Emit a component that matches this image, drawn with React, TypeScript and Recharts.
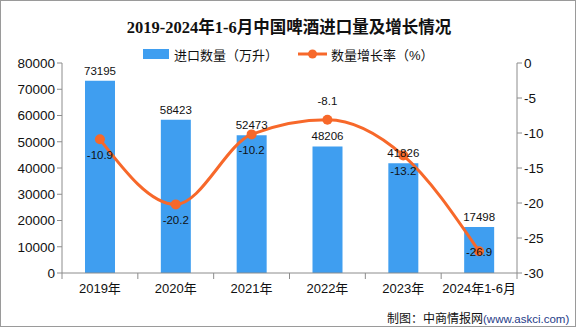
import { Bar, ComposedChart, LabelList, Line, XAxis, YAxis } from "recharts";

const years = ["2019年", "2020年", "2021年", "2022年", "2023年", "2024年1-6月"];
const imports = [73195, 58423, 52473, 48206, 41826, 17498];
const growth = [-10.9, -20.2, -10.2, -8.1, -13.2, -26.9];
const leftTicks = [0, 10000, 20000, 30000, 40000, 50000, 60000, 70000, 80000];
const rightTicks = [-30, -25, -20, -15, -10, -5, 0];

const BLUE = "#3F9EF0";
const ORANGE = "#F7682A";
const AXIS = "#8C8C8C";
const TEXT = "#111111";
const CJK = "'Liberation Sans', 'Noto Sans CJK SC', sans-serif";

const W = 576;
const H = 327;
const M = { top: 63, right: 8, bottom: 24, left: 8 };
const LEFT_W = 54;
const RIGHT_W = 51;
const BAND = (W - M.left - M.right - LEFT_W - RIGHT_W) / years.length;

const data = years.map((y, i) => ({ year: y, imports: imports[i], growth: growth[i] }));

function XTick(props: any) {
  const { x, y, payload, index } = props;
  return (
    <g>
      <line x1={x - BAND / 2} x2={x - BAND / 2} y1={y - 8} y2={y - 2} stroke={AXIS} />
      {index === years.length - 1 ? (
        <line x1={x + BAND / 2} x2={x + BAND / 2} y1={y - 8} y2={y - 2} stroke={AXIS} />
      ) : null}
      <text x={x} y={y + 12} textAnchor="middle" fontSize={13} fill={TEXT} fontFamily={CJK}>
        {payload.value}
      </text>
    </g>
  );
}

function GrowthLabel(props: any) {
  const { x, y, value, index } = props;
  let dy = 20;
  if (index === 3) dy = -15;
  if (index === 5) dy = 5;
  return (
    <text x={x} y={y + dy} textAnchor="middle" fontSize={11.5} fill={TEXT} fontFamily={CJK}>
      {value}
    </text>
  );
}

export default function App() {
  return (
    <div
      style={{
        position: "absolute",
        left: 0,
        top: 0,
        width: W,
        height: H,
        background: "#fff",
        boxSizing: "border-box",
        border: "1px solid #9a9a9a",
        overflow: "hidden",
      }}
    >
      <div
        style={{
          position: "absolute",
          left: 0,
          width: W,
          top: 13,
          textAlign: "center",
          fontFamily: "'Liberation Serif', 'Noto Sans CJK SC', serif",
          fontWeight: 700,
          fontSize: 16.5,
          color: TEXT,
        }}
      >
        2019-2024年1-6月中国啤酒进口量及增长情况
      </div>
      <div style={{ position: "absolute", left: 0, top: 0, fontFamily: CJK, fontSize: 13, color: TEXT }}>
        <div style={{ position: "absolute", left: 142, top: 48, width: 26, height: 10, background: BLUE }} />
        <div style={{ position: "absolute", left: 173, top: 44, whiteSpace: "nowrap" }}>进口数量（万升）</div>
        <svg style={{ position: "absolute", left: 296, top: 46 }} width={31} height={14}>
          <line x1={1} x2={30} y1={7} y2={7} stroke={ORANGE} strokeWidth={3} />
          <circle cx={15.5} cy={7} r={4.5} fill={ORANGE} />
        </svg>
        <div style={{ position: "absolute", left: 330, top: 44, whiteSpace: "nowrap" }}>数量增长率（%）</div>
      </div>
      <div style={{ position: "absolute", left: -1, top: -1 }}>
        <ComposedChart width={W} height={H} data={data} margin={M}>
          <XAxis
            dataKey="year"
            stroke={AXIS}
            tickLine={false}
            tick={<XTick />}
            height={30}
            interval={0}
          />
          <YAxis
            yAxisId="left"
            domain={[0, 80000]}
            ticks={leftTicks}
            width={LEFT_W}
            stroke={AXIS}
            tickSize={5}
            tick={{ fill: TEXT, fontSize: 13.5, fontFamily: CJK }}
            interval={0}
          />
          <YAxis
            yAxisId="right"
            orientation="right"
            domain={[-30, 0]}
            ticks={rightTicks}
            width={RIGHT_W}
            stroke={AXIS}
            tickSize={5}
            tick={{ fill: TEXT, fontSize: 13.5, fontFamily: CJK }}
            interval={0}
          />
          <Bar yAxisId="left" dataKey="imports" fill={BLUE} barSize={30} isAnimationActive={false}>
            <LabelList
              dataKey="imports"
              position="top"
              offset={6}
              fill={TEXT}
              fontSize={11.5}
              fontFamily={CJK}
            />
          </Bar>
          <Line
            yAxisId="right"
            type="monotone"
            dataKey="growth"
            stroke={ORANGE}
            strokeWidth={3}
            dot={{ r: 5, fill: ORANGE, stroke: ORANGE, strokeWidth: 0 }}
            isAnimationActive={false}
          >
            <LabelList dataKey="growth" content={<GrowthLabel />} />
          </Line>
        </ComposedChart>
      </div>
      <div
        style={{
          position: "absolute",
          left: 386,
          top: 308,
          fontFamily: CJK,
          fontSize: 12,
          color: TEXT,
          whiteSpace: "nowrap",
        }}
      >
        制图：中商情报网
        <span style={{ fontSize: 11.5, color: "#1f3c88" }}>(www.askci.com)</span>
      </div>
    </div>
  );
}
